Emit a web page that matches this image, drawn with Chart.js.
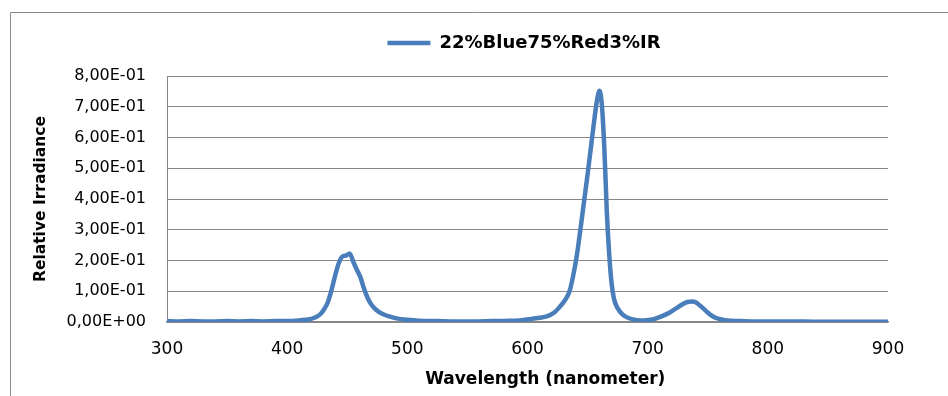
<!DOCTYPE html>
<html>
<head>
<meta charset="utf-8">
<script src="https://cdn.jsdelivr.net/npm/chart.js@4/dist/chart.umd.min.js"></script>
<style>
  html, body { margin: 0; padding: 0; background: #fff; }
  #spectrum { display: block; }
</style>
</head>
<body>
<canvas id="spectrum" width="948" height="396"></canvas>
<script>
// spectrum of the lamp mix, sampled more densely around the peaks
const wavelengths = [300, 310, 320, 330, 340, 350, 360, 370, 380, 390, 400, 410, 415, 420, 424, 428, 431, 434, 437, 440,
  443, 446, 449, 452, 455, 458, 461, 464, 467, 470, 474, 479, 485, 492, 500, 510, 525, 540, 555, 570,
  585, 595, 603, 610, 616, 622, 627, 631, 635, 638, 641, 644, 647, 650, 653, 656, 658, 660, 662, 664,
  666, 668, 670, 672, 675, 679, 684, 690, 697, 705, 712, 718, 724, 729, 733, 737, 740, 744, 748, 752,
  757, 763, 770, 778, 790, 805, 820, 840, 860, 880, 900];
const irradiance = [0.003, 0.002, 0.003, 0.002, 0.002, 0.003, 0.002, 0.003, 0.002, 0.003, 0.003, 0.005, 0.007, 0.010, 0.016, 0.027, 0.043, 0.066, 0.105, 0.152,
  0.192, 0.213, 0.216, 0.223, 0.196, 0.170, 0.145, 0.108, 0.078, 0.057, 0.040, 0.027, 0.018, 0.011, 0.007, 0.004, 0.003, 0.002, 0.002, 0.003,
  0.004, 0.006, 0.010, 0.014, 0.018, 0.030, 0.050, 0.070, 0.100, 0.150, 0.215, 0.300, 0.390, 0.480, 0.575, 0.670, 0.725, 0.752, 0.700, 0.560,
  0.360, 0.220, 0.125, 0.075, 0.045, 0.025, 0.013, 0.007, 0.005, 0.009, 0.019, 0.030, 0.045, 0.058, 0.065, 0.067, 0.064, 0.052, 0.038, 0.024,
  0.013, 0.007, 0.004, 0.003, 0.002, 0.002, 0.002, 0.001, 0.001, 0.001, 0.001];
const seriesName = '22%Blue75%Red3%IR';
const xTitle = 'Wavelength (nanometer)';
const yTitle = 'Relative Irradiance';

const points = wavelengths.map((w, i) => ({ x: w, y: irradiance[i] }));

// 8,00E-01 style labels
function sciLabel(v) {
  const parts = Number(v).toExponential(2).split('e');
  const sign = parts[1][0] === '-' ? '-' : '+';
  const exp = parts[1].replace(/[+-]/, '').padStart(2, '0');
  return parts[0].replace('.', ',') + 'E' + sign + exp;
}

const frame = {
  id: 'frame',
  beforeDraw(chart) {
    const c = chart.ctx;
    c.save();
    c.strokeStyle = '#8c8c8c';
    c.lineWidth = 1;
    c.beginPath();
    c.moveTo(10.5, 396);
    c.lineTo(10.5, 12.5);
    c.lineTo(948, 12.5);
    c.stroke();
    c.restore();
  }
};

// put the legend over the plot instead of the whole canvas, a bit higher up
const legendShift = {
  id: 'legendShift',
  afterLayout(chart) {
    const lg = chart.legend;
    lg.left += 80;
    lg.right += 80;
    lg.top -= 14;
    lg.bottom -= 14;
  }
};

const gray = '#878787';

new Chart(document.getElementById('spectrum').getContext('2d'), {
  type: 'line',
  data: {
    datasets: [{
      label: seriesName,
      data: points,
      borderColor: '#4a7ebb',
      backgroundColor: '#4a7ebb',
      borderWidth: 4.5,
      pointRadius: 0,
      fill: false,
      cubicInterpolationMode: 'monotone'
    }]
  },
  options: {
    responsive: false,
    animation: false,
    layout: { padding: { top: 24, right: 60, left: 0, bottom: 0 } },
    plugins: {
      legend: {
        display: true,
        position: 'top',
        labels: {
          usePointStyle: true,
          pointStyle: 'line',
          pointStyleWidth: 43,
          color: '#000',
          padding: 24,
          font: { family: 'DejaVu Sans', size: 18, weight: 'bold' }
        }
      },
      tooltip: { enabled: false }
    },
    scales: {
      x: {
        type: 'linear',
        min: 300,
        max: 900,
        afterFit: (s) => { s.height = 74; },
        ticks: {
          stepSize: 100,
          padding: 9,
          color: '#000',
          font: { family: 'DejaVu Sans', size: 17 }
        },
        grid: { display: false },
        border: { display: true, color: gray, width: 1.5 },
        title: {
          display: true,
          text: '\u00a0\u00a0\u00a0\u00a0\u00a0\u00a0' + xTitle,
          color: '#000',
          padding: { top: 0, bottom: 6 },
          font: { family: 'DejaVu Sans', size: 17, weight: 'bold' }
        }
      },
      y: {
        min: 0,
        max: 0.8,
        afterFit: (s) => { s.width = 167; },
        ticks: {
          stepSize: 0.1,
          padding: 21,
          color: '#000',
          font: { family: 'DejaVu Sans', size: 16 },
          callback: (v) => sciLabel(v)
        },
        grid: { color: gray, lineWidth: 1, drawTicks: false },
        border: { display: true, color: gray, width: 1 },
        title: {
          display: true,
          text: yTitle,
          color: '#000',
          padding: { top: 32, bottom: 0 },
          font: { family: 'DejaVu Sans', size: 15.5, weight: 'bold' }
        }
      }
    }
  },
  plugins: [frame, legendShift]
});
</script>
</body>
</html>
